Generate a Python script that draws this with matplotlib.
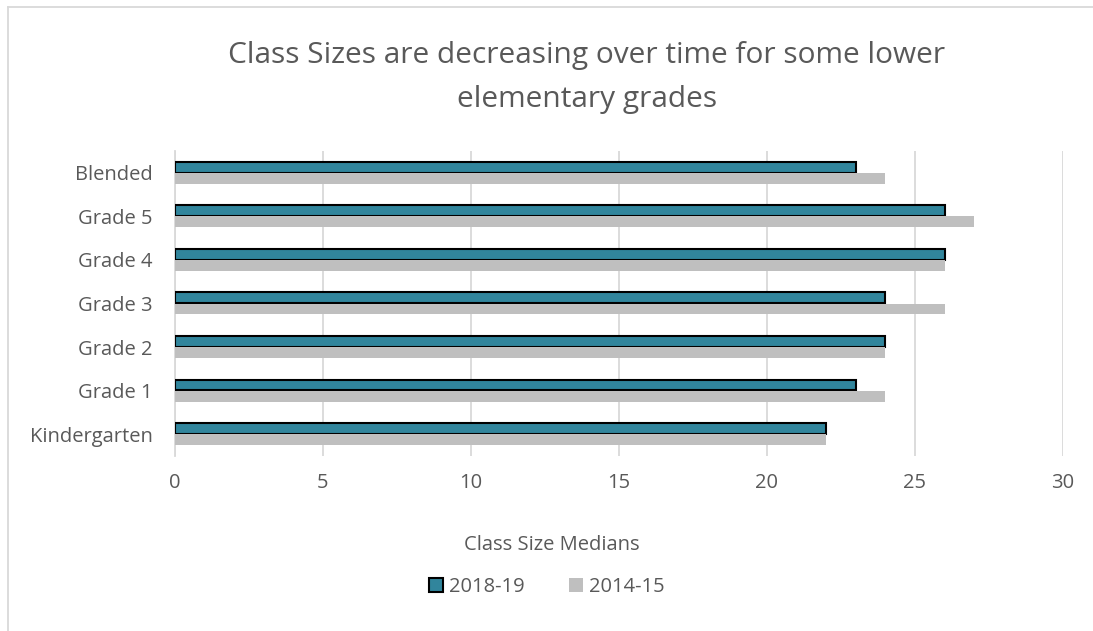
import numpy as np
import matplotlib.pyplot as plt
from matplotlib.lines import Line2D

categories = ["Kindergarten", "Grade 1", "Grade 2", "Grade 3", "Grade 4", "Grade 5", "Blended"]
sizes_2018 = [22, 23, 24, 24, 26, 26, 23]
sizes_2014 = [22, 24, 24, 26, 26, 27, 24]
x_ticks = [0, 5, 10, 15, 20, 25, 30]

teal = "#31859c"
grey = "#bfbfbf"
text_col = "#595959"

plt.rcParams["font.family"] = ["Open Sans", "DejaVu Sans"]

W, H = 1093, 631
fig = plt.figure(figsize=(W / 100, H / 100), dpi=100)
ax = fig.add_axes([175 / W, 1 - 456 / H, (1063 - 175) / W, (456 - 151) / H])

y = np.arange(len(categories))
ax.barh(y + 0.13, sizes_2018, height=0.25, color=teal, edgecolor="black", linewidth=1.5, zorder=3)
ax.barh(y - 0.125, sizes_2014, height=0.25, color=grey, linewidth=0, zorder=3)

ax.set_xlim(0, 30)
ax.set_ylim(-0.5, 6.5)
ax.set_xticks(x_ticks)
ax.set_yticks(y)
ax.set_yticklabels(categories)
ax.tick_params(length=0, labelsize=14.5, colors=text_col)
ax.tick_params(axis="y", pad=16)
ax.tick_params(axis="x", pad=12)
ax.xaxis.grid(True, color="#d9d9d9", linewidth=1.3, zorder=0)
for s in ["top", "right", "bottom"]:
    ax.spines[s].set_visible(False)
ax.spines["left"].set_color("#d9d9d9")
ax.spines["left"].set_linewidth(1.3)

fig.text(552 / W, 1 - 550 / H, "Class Size Medians", ha="center", va="baseline",
         fontsize=14.5, color=text_col)

fig.text(587 / W, 1 - 63 / H, "Class Sizes are decreasing over time for some lower",
         ha="center", va="baseline", fontsize=21.5, color=text_col)
fig.text(587 / W, 1 - 107 / H, "elementary grades",
         ha="center", va="baseline", fontsize=21.5, color=text_col)

handles = [
    plt.Rectangle((0, 0), 1, 1, facecolor=teal, edgecolor="black", linewidth=1.5),
    plt.Rectangle((0, 0), 1, 1, facecolor=grey, edgecolor="none"),
]
fig.legend(handles, ["2018-19", "2014-15"], loc="center", bbox_to_anchor=(547 / W, 1 - 587 / H),
           ncol=2, frameon=False, fontsize=14.5, labelcolor=text_col,
           handlelength=0.7, handleheight=0.7, handletextpad=0.3, columnspacing=2.2)

# chart border (top and left edges visible)
fig.add_artist(Line2D([8 / W, 1], [1 - 7 / H, 1 - 7 / H], color="#d9d9d9", linewidth=1.3))
fig.add_artist(Line2D([8 / W, 8 / W], [0, 1 - 7 / H], color="#d9d9d9", linewidth=1.3))

fig.savefig("out.png", dpi=100)
